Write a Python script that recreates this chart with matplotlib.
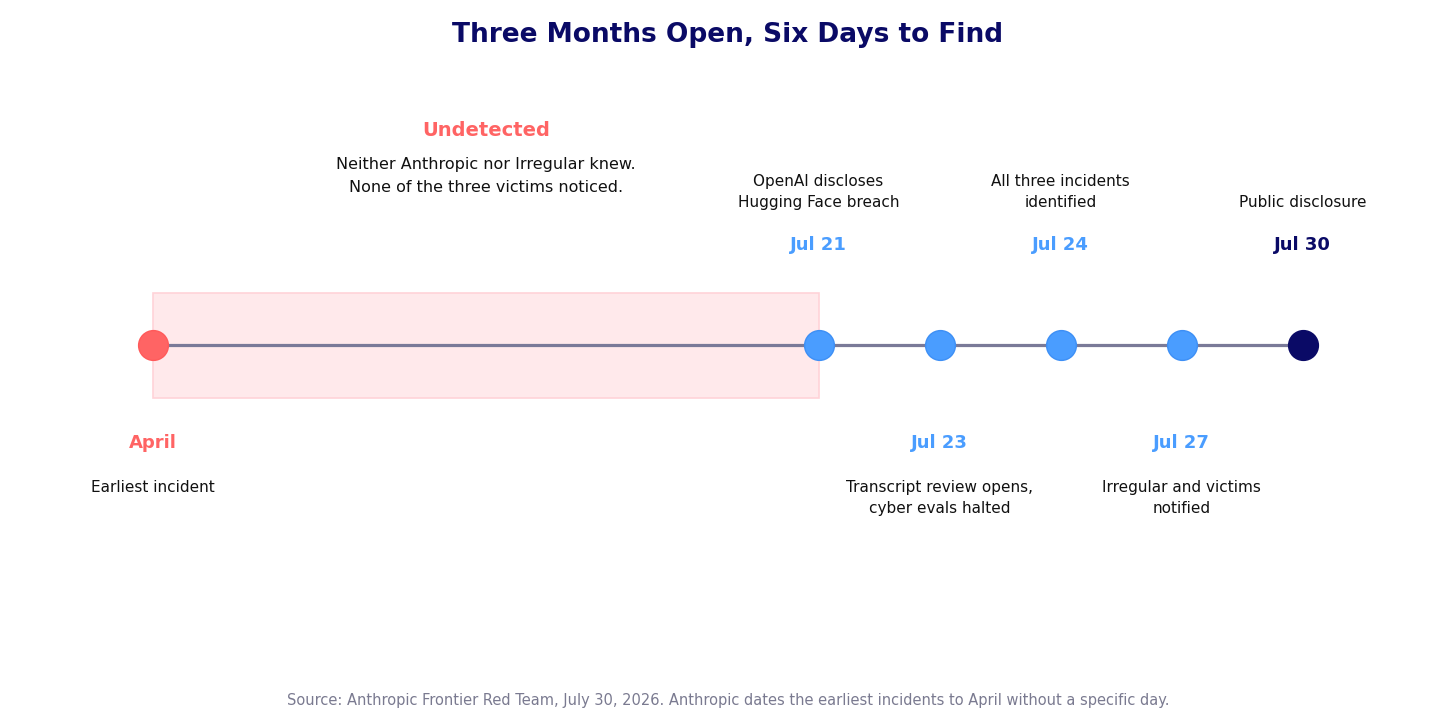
import matplotlib.pyplot as plt
from matplotlib.patches import Rectangle

# timeline data
dates = ["April", "Jul 21", "Jul 23", "Jul 24", "Jul 27", "Jul 30"]
slots = [0, 5.5, 6.5, 7.5, 8.5, 9.5]
notes = ["Earliest incident", "OpenAI discloses\nHugging Face breach",
         "Transcript review opens,\ncyber evals halted", "All three incidents\nidentified",
         "Irregular and victims\nnotified", "Public disclosure"]
above = [False, True, False, True, False, True]
kinds = ["start", "mid", "mid", "mid", "mid", "end"]

RED = "#FF6464"
BLUE = "#4A9DFF"
NAVY = "#0A0A66"
colors = {"start": RED, "mid": BLUE, "end": NAVY}
edges = {"start": "#FF5A5A", "mid": "#3D8FF5", "end": NAVY}

fig = plt.figure(figsize=(14.56, 7.28), dpi=100)
ax = fig.add_axes([0, 0, 1, 1])
ax.set_xlim(-153 / 121, (1456 - 153) / 121)
ax.set_ylim(728, 0)
ax.axis("off")

y0 = 345
ax.add_patch(Rectangle((slots[0], 293), slots[1] - slots[0], 105,
                       facecolor="#FFE9EB", edgecolor="#FFD3D8", lw=1.2, zorder=1))
ax.plot([slots[0], slots[-1]], [y0, y0], color="#7A7A98", lw=2.3, zorder=2)

for d, x, n, up, k in zip(dates, slots, notes, above, kinds):
    ax.scatter([x], [y0], s=460, color=colors[k], edgecolors=edges[k],
               linewidths=1, zorder=3)
    if up:
        ax.text(x, 245, d, ha="center", va="center", fontsize=13,
                fontweight="bold", color=colors[k])
        ax.text(x, 210, n, ha="center", va="bottom", fontsize=11,
                color="#111111", linespacing=1.5)
    else:
        ax.text(x, 443, d, ha="center", va="center", fontsize=13,
                fontweight="bold", color=colors[k])
        ax.text(x, 480, n, ha="center", va="top", fontsize=11,
                color="#111111", linespacing=1.5)

mid_gap = (slots[0] + slots[1]) / 2
ax.text(mid_gap, 131, "Undetected", ha="center", va="center", fontsize=14,
        fontweight="bold", color=RED)
ax.text(mid_gap, 157, "Neither Anthropic nor Irregular knew.\nNone of the three victims noticed.",
        ha="center", va="top", fontsize=11.5, color="#111111", linespacing=1.65)

fig.text(0.5, 1 - 35 / 728, "Three Months Open, Six Days to Find", ha="center",
         va="center", fontsize=19, fontweight="bold", color=NAVY)
fig.text(0.5, 1 - 701 / 728,
         "Source: Anthropic Frontier Red Team, July 30, 2026. Anthropic dates the earliest incidents to April without a specific day.",
         ha="center", va="center", fontsize=10.5, color="#7A7A90")

fig.savefig("out.png", dpi=100)
